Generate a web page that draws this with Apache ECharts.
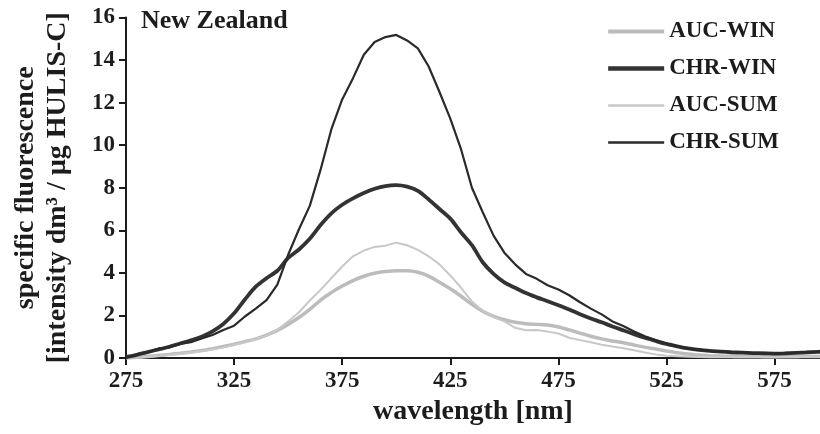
<!DOCTYPE html>
<html>
<head>
<meta charset="utf-8">
<script src="https://cdn.jsdelivr.net/npm/echarts@6/dist/echarts.min.js"></script>
<style>html,body{margin:0;padding:0;background:#fff}#c{width:820px;height:434px}</style>
</head>
<body>
<div id="c"></div>
<script>
const wavelength = [275,280,285,290,295,300,305,310,315,320,325,330,335,340,345,350,355,360,365,370,375,380,385,390,395,400,405,410,415,420,425,430,435,440,445,450,455,460,465,470,475,480,485,490,495,500,505,510,515,520,525,530,535,540,545,550,555,560,565,570,575,580,585,590,595,600];

const aucWin = [0.00,0.03,0.07,0.12,0.17,0.22,0.28,0.35,0.44,0.54,0.65,0.77,0.90,1.08,1.30,1.58,1.90,2.28,2.72,3.08,3.38,3.64,3.84,3.98,4.06,4.10,4.10,4.03,3.85,3.56,3.25,2.90,2.52,2.20,1.96,1.80,1.68,1.61,1.58,1.55,1.46,1.32,1.17,1.02,0.90,0.80,0.72,0.61,0.51,0.42,0.33,0.25,0.19,0.14,0.11,0.09,0.08,0.07,0.07,0.06,0.06,0.06,0.06,0.07,0.07,0.07];

const chrWin = [0.05,0.15,0.28,0.40,0.53,0.68,0.83,1.00,1.25,1.60,2.10,2.75,3.35,3.75,4.10,4.70,5.10,5.60,6.25,6.80,7.20,7.50,7.75,7.95,8.08,8.12,8.05,7.85,7.45,7.00,6.55,5.90,5.30,4.50,3.95,3.55,3.30,3.05,2.85,2.67,2.48,2.28,2.06,1.86,1.68,1.48,1.30,1.12,0.95,0.80,0.66,0.55,0.45,0.38,0.33,0.30,0.27,0.25,0.23,0.22,0.21,0.22,0.24,0.26,0.29,0.31];

const aucSum = [0.00,0.02,0.05,0.09,0.14,0.20,0.26,0.32,0.40,0.50,0.61,0.74,0.88,1.05,1.32,1.72,2.15,2.70,3.20,3.75,4.30,4.78,5.05,5.22,5.28,5.42,5.30,5.08,4.78,4.40,3.88,3.30,2.65,2.22,1.92,1.72,1.42,1.30,1.32,1.24,1.15,0.95,0.84,0.74,0.62,0.54,0.46,0.36,0.26,0.17,0.11,0.08,0.06,0.05,0.04,0.05,0.04,0.05,0.04,0.05,0.04,0.05,0.05,0.05,0.06,0.06];

const chrSum = [0.00,0.18,0.27,0.45,0.50,0.66,0.74,0.92,1.08,1.32,1.52,1.95,2.32,2.72,3.45,4.85,6.05,7.15,8.85,10.75,12.15,13.15,14.25,14.85,15.08,15.18,14.92,14.55,13.70,12.50,11.25,9.80,8.00,6.85,5.75,4.95,4.40,3.95,3.72,3.42,3.22,2.95,2.62,2.32,2.05,1.72,1.50,1.25,1.02,0.84,0.68,0.56,0.44,0.40,0.33,0.31,0.26,0.27,0.22,0.24,0.21,0.24,0.25,0.29,0.30,0.34];

const seriesNames = ['AUC-WIN','CHR-WIN','AUC-SUM','CHR-SUM'];
const yTicks = {min: 0, max: 16, interval: 2};
const xTicks = {min: 275, max: 596, interval: 50};

const pairs = arr => wavelength.map((w, i) => [w, arr[i]]);
const FONT = 'Liberation Serif';
const INK = '#1c1c1c';
const styles = {
  'AUC-WIN': {color: '#bcbcbc', width: 3.5},
  'CHR-WIN': {color: '#333333', width: 3.8},
  'AUC-SUM': {color: '#c8c8c8', width: 2},
  'CHR-SUM': {color: '#2a2a2a', width: 2.2}
};

const chart = echarts.init(document.getElementById('c'), null, {renderer: 'canvas'});
chart.setOption({
  animation: false,
  backgroundColor: '#ffffff',
  title: {
    text: 'New Zealand', left: 136, top: 3,
    textStyle: {fontFamily: FONT, fontWeight: 'bold', fontSize: 26, color: INK}
  },
  legend: {
    orient: 'vertical', left: 601, top: 14,
    itemWidth: 56, itemHeight: 14, itemGap: 12,
    data: seriesNames.map(n => ({name: n, lineStyle: {color: styles[n].color, width: styles[n].width + 0.5}})),
    itemStyle: {opacity: 0},
    textStyle: {fontFamily: FONT, fontWeight: 'bold', fontSize: 23, color: INK, lineHeight: 25}
  },
  grid: {left: 126, right: 0, top: 17.5, bottom: 76, containLabel: false},
  xAxis: {
    type: 'value', min: xTicks.min, max: xTicks.max, interval: xTicks.interval,
    name: 'wavelength [nm]', nameLocation: 'middle', nameGap: 40,
    nameTextStyle: {fontFamily: FONT, fontWeight: 'bold', fontSize: 28, color: INK},
    axisLine: {lineStyle: {color: INK, width: 2}},
    axisTick: {show: true, inside: false, length: 7, lineStyle: {color: INK, width: 2}},
    axisLabel: {showMaxLabel: false, margin: 12, fontFamily: FONT, fontWeight: 'bold', fontSize: 23, color: INK},
    splitLine: {show: false}
  },
  yAxis: {
    type: 'value', min: yTicks.min, max: yTicks.max, interval: yTicks.interval,
    name: 'specific fluorescence\n[intensity dm³ / µg HULIS-C]', nameLocation: 'middle', nameGap: 52, nameRotate: 90,
    nameTextStyle: {fontFamily: FONT, fontWeight: 'bold', fontSize: 28, color: INK, lineHeight: 32},
    axisLine: {show: true, lineStyle: {color: INK, width: 2}},
    axisTick: {show: true, inside: false, length: 7, lineStyle: {color: INK, width: 2}},
    axisLabel: {margin: 11, fontFamily: FONT, fontWeight: 'bold', fontSize: 23, color: INK},
    splitLine: {show: false}
  },
  series: [
    {name: 'AUC-WIN', type: 'line', data: pairs(aucWin), symbol: 'none', smooth: 0.3, z: 2,
     lineStyle: styles['AUC-WIN'], itemStyle: {color: styles['AUC-WIN'].color}},
    {name: 'CHR-WIN', type: 'line', data: pairs(chrWin), symbol: 'none', smooth: 0.3, z: 4,
     lineStyle: styles['CHR-WIN'], itemStyle: {color: styles['CHR-WIN'].color}},
    {name: 'AUC-SUM', type: 'line', data: pairs(aucSum), symbol: 'none', z: 3,
     lineStyle: styles['AUC-SUM'], itemStyle: {color: styles['AUC-SUM'].color}},
    {name: 'CHR-SUM', type: 'line', data: pairs(chrSum), symbol: 'none', z: 5,
     lineStyle: styles['CHR-SUM'], itemStyle: {color: styles['CHR-SUM'].color}}
  ]
});
</script>
</body>
</html>
